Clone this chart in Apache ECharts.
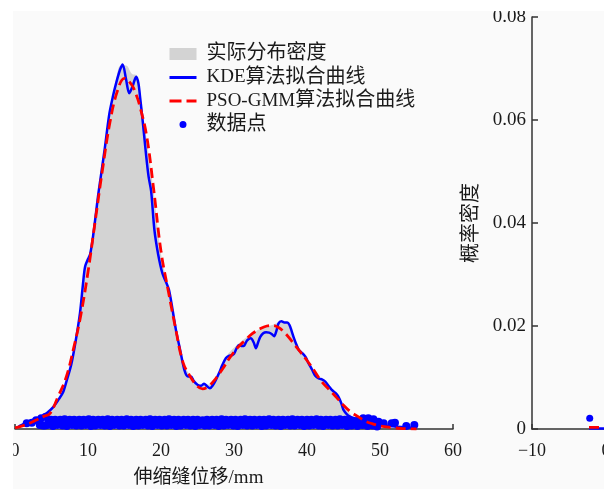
<!DOCTYPE html>
<html>
<head>
<meta charset="utf-8">
<title>伸缩缝位移概率密度</title>
<script src="https://cdn.jsdelivr.net/npm/echarts@6/dist/echarts.min.js"></script>
</head>
<body style="margin:0">
<div id="main" style="width:616px;height:489px;"></div>
<script>
// 实际分布密度 (灰色面积)
var actualDensity = [
  [4.5, 0], [4.8, 0.003], [5.5, 0.0048], [6.5, 0.0075], [7.5, 0.0118], [8.5, 0.019], [9.3, 0.0275],
  [9.8, 0.032], [10.3, 0.035], [11, 0.0415], [12, 0.0525], [13, 0.062], [13.8, 0.0675], [14.5, 0.0706],
  [15.2, 0.0706], [16, 0.069], [16.7, 0.0686], [17.3, 0.0635], [18, 0.0565], [19, 0.046], [20, 0.034],
  [21, 0.0275], [22, 0.0198], [23, 0.013], [24, 0.0104], [25, 0.0088], [26, 0.0086], [27, 0.009],
  [28, 0.0112], [29, 0.0142], [30, 0.0158], [31, 0.017], [32, 0.0181], [33, 0.019], [34, 0.0197],
  [35, 0.0201], [36, 0.0206], [37, 0.0208], [38, 0.0185], [39, 0.0156], [40, 0.0137], [41, 0.0114],
  [42, 0.0096], [43, 0.0082], [44, 0.0066], [45, 0.0045], [46, 0.0027], [46.6, 0]
];

// KDE算法拟合曲线
var kdeCurve = [
  [0.5, 0.0005], [1.5, 0.0012], [2.5, 0.0018], [3.5, 0.0022], [4.3, 0.003], [5.2, 0.0042], [6, 0.0058],
  [6.6, 0.0072], [7.1, 0.0095], [7.7, 0.0125], [8.3, 0.017], [8.9, 0.0225], [9.3, 0.028], [9.6, 0.0315],
  [10.0, 0.033], [10.3, 0.034], [10.7, 0.0375], [11.1, 0.042], [11.4, 0.0455], [11.8, 0.0495],
  [12.3, 0.0545], [12.9, 0.061], [13.4, 0.0645], [13.9, 0.0674], [14.4, 0.0698], [14.75, 0.0708],
  [15.2, 0.068], [15.65, 0.0652], [16.1, 0.0665], [16.6, 0.0684], [16.9, 0.0672], [17.1, 0.0649],
  [17.5, 0.0597], [17.9, 0.054], [18.3, 0.049], [18.65, 0.0462], [19.1, 0.0386], [19.6, 0.034],
  [20.2, 0.0302], [20.7, 0.0285], [21.1, 0.027], [21.6, 0.023], [22.05, 0.0192], [22.6, 0.0155],
  [23.2, 0.0115], [23.7, 0.0102], [24.1, 0.0102], [24.5, 0.0093], [25.0, 0.0086], [25.5, 0.0084],
  [25.9, 0.0088], [26.3, 0.0083], [26.7, 0.0079], [27.1, 0.0085], [27.5, 0.0095], [28.0, 0.011],
  [28.4, 0.0124], [28.9, 0.0138], [29.3, 0.0142], [29.7, 0.0143], [30.0, 0.0146], [30.4, 0.0158],
  [30.7, 0.0163], [31.1, 0.0161], [31.4, 0.0162], [31.8, 0.0172], [32.3, 0.0176], [32.7, 0.0168],
  [33.0, 0.0157], [33.3, 0.0168], [33.6, 0.0179], [34.0, 0.0186], [34.4, 0.0188], [34.8, 0.0187],
  [35.2, 0.0184], [35.5, 0.018], [35.8, 0.019], [36.1, 0.0205], [36.5, 0.0209], [36.9, 0.0207],
  [37.3, 0.0207], [37.6, 0.0202], [37.9, 0.019], [38.2, 0.0177], [38.6, 0.0162], [38.9, 0.0153],
  [39.3, 0.0148], [39.8, 0.014], [40.2, 0.0128], [40.7, 0.0115], [41.1, 0.0104], [41.6, 0.0098],
  [42.1, 0.0096], [42.5, 0.0092], [43.0, 0.0083], [43.4, 0.0076], [43.9, 0.007], [44.3, 0.0063],
  [44.7, 0.005], [45.0, 0.0037], [45.5, 0.0028], [45.9, 0.0024], [46.6, 0.002], [47.3, 0.0017],
  [48.2, 0.0014], [49.2, 0.0011], [50.5, 0.0008], [52, 0.0005], [54, 0.0003], [55, 0.0002]
];

// PSO-GMM算法拟合曲线
var gmmCurve = [
  [0, 0.0002], [1, 0.0006], [2, 0.0011], [3, 0.0018], [4, 0.0025], [4.8, 0.003], [5.9, 0.0063],
  [7, 0.01], [8, 0.0155], [9, 0.022], [10, 0.0305], [11, 0.0405], [12, 0.0505], [13, 0.0595],
  [14, 0.0655], [15, 0.0681], [16, 0.0668], [16.6, 0.0649], [17, 0.0632], [18, 0.0572], [19, 0.0465],
  [20, 0.0345], [21, 0.0268], [22, 0.0195], [23, 0.013], [24, 0.0102], [25, 0.0083], [25.7, 0.0078],
  [26.5, 0.0083], [27.5, 0.0098], [28.5, 0.0118], [29.5, 0.014], [30.5, 0.0158], [31.5, 0.0172],
  [32.5, 0.0185], [33.5, 0.0194], [34.5, 0.02], [35.3, 0.0201], [36.1, 0.0197], [37, 0.0186],
  [38, 0.0169], [39, 0.0151], [40, 0.0133], [41, 0.0113], [42, 0.0092], [43, 0.0077], [44, 0.0062],
  [45, 0.0046], [46, 0.0033], [47, 0.0024], [48, 0.0015], [49, 0.001], [50, 0.0006], [51.5, 0.0003],
  [53, 0.0001], [55, 0]
];

// 数据点
var dataPoints = [
  [1.6, 0.0011], [2.3, 0.0012], [2.9, 0.0017], [3.4, 0.0008], [3.6, 0.0021], [4.2, 0.0024], [4.1, 0.0007],
  [4.9, 0.0018], [5.5, 0.0018], [6.2, 0.0018], [6.8, 0.0019], [7.5, 0.0018], [8.1, 0.0018], [8.8, 0.0018],
  [9.4, 0.0018], [10.1, 0.0019], [10.7, 0.0018], [11.4, 0.0018], [12.0, 0.0018], [12.7, 0.0019],
  [13.3, 0.0018], [14.0, 0.0018], [14.6, 0.0018], [15.3, 0.0019], [15.9, 0.0018], [16.6, 0.0018],
  [17.2, 0.0018], [17.9, 0.0018], [18.5, 0.0019], [19.2, 0.0018], [19.8, 0.0018], [20.5, 0.0018],
  [21.1, 0.0019], [21.8, 0.0018], [22.4, 0.0018], [23.1, 0.0018], [23.7, 0.0018], [24.4, 0.0018],
  [25.0, 0.0018], [25.7, 0.0017], [26.3, 0.0018], [27.0, 0.0018], [27.6, 0.0018], [28.3, 0.0019],
  [28.9, 0.0018], [29.6, 0.0018], [30.2, 0.0018], [30.9, 0.0018], [31.5, 0.0019], [32.2, 0.0018],
  [32.8, 0.0018], [33.5, 0.0018], [34.1, 0.0018], [34.8, 0.0019], [35.4, 0.0018], [36.1, 0.0018],
  [36.7, 0.0018], [37.4, 0.0018], [38.0, 0.0019], [38.7, 0.0018], [39.3, 0.0018], [40.0, 0.0018],
  [40.6, 0.0018], [41.3, 0.0019], [41.9, 0.0018], [42.6, 0.0018], [43.2, 0.0018], [43.9, 0.0018],
  [44.5, 0.0019], [45.2, 0.0018], [45.8, 0.0018],
  [4.6, 0.0013], [5.2, 0.0012], [5.9, 0.0014], [6.5, 0.0013], [7.2, 0.0012], [7.8, 0.0013], [8.5, 0.0014],
  [9.1, 0.0013], [9.8, 0.0012], [10.4, 0.0013], [11.1, 0.0013], [11.7, 0.0014], [12.4, 0.0012],
  [13.0, 0.0013], [13.7, 0.0013], [14.3, 0.0012], [15.0, 0.0014], [15.6, 0.0013], [16.3, 0.0013],
  [16.9, 0.0012], [17.6, 0.0013], [18.2, 0.0014], [18.9, 0.0013], [19.5, 0.0012], [20.2, 0.0013],
  [20.8, 0.0013], [21.5, 0.0014], [22.1, 0.0012], [22.8, 0.0013], [23.4, 0.0013], [24.1, 0.0012],
  [24.7, 0.0014], [25.4, 0.0013], [26.0, 0.0012], [26.7, 0.0013], [27.3, 0.0014], [28.0, 0.0013],
  [28.6, 0.0012], [29.3, 0.0013], [29.9, 0.0013], [30.6, 0.0014], [31.2, 0.0012], [31.9, 0.0013],
  [32.5, 0.0013], [33.2, 0.0012], [33.8, 0.0014], [34.5, 0.0013], [35.1, 0.0013], [35.8, 0.0012],
  [36.4, 0.0013], [37.1, 0.0014], [37.7, 0.0013], [38.4, 0.0012], [39.0, 0.0013], [39.7, 0.0013],
  [40.3, 0.0014], [41.0, 0.0012], [41.6, 0.0013], [42.3, 0.0013], [42.9, 0.0012], [43.6, 0.0014],
  [44.2, 0.0013], [44.9, 0.0013], [45.5, 0.0012], [46.0, 0.0013],
  [3.8, 0.0007], [4.5, 0.0008], [5.2, 0.0006], [5.8, 0.0008], [6.5, 0.0007], [7.1, 0.0006], [7.8, 0.0008],
  [8.4, 0.0007], [9.1, 0.0007], [9.7, 0.0008], [10.4, 0.0006], [11.0, 0.0007], [11.7, 0.0008],
  [12.3, 0.0007], [13.0, 0.0006], [13.6, 0.0008], [14.3, 0.0007], [14.9, 0.0007], [15.6, 0.0008],
  [16.2, 0.0006], [16.9, 0.0007], [17.5, 0.0008], [18.2, 0.0007], [18.8, 0.0006], [19.5, 0.0008],
  [20.1, 0.0007], [20.8, 0.0007], [21.4, 0.0008], [22.1, 0.0006], [22.7, 0.0007], [23.4, 0.0008],
  [24.0, 0.0007], [24.7, 0.0006], [25.3, 0.0008], [26.0, 0.0007], [26.6, 0.0007], [27.3, 0.0008],
  [27.9, 0.0006], [28.6, 0.0007], [29.2, 0.0008], [29.9, 0.0007], [30.5, 0.0006], [31.2, 0.0008],
  [31.8, 0.0007], [32.5, 0.0007], [33.1, 0.0008], [33.8, 0.0006], [34.4, 0.0007], [35.1, 0.0008],
  [35.7, 0.0007], [36.4, 0.0006], [37.0, 0.0008], [37.7, 0.0007], [38.3, 0.0007], [39.0, 0.0008],
  [39.6, 0.0006], [40.3, 0.0007], [40.9, 0.0008], [41.6, 0.0007], [42.2, 0.0006], [42.9, 0.0008],
  [43.5, 0.0007], [44.2, 0.0007], [44.8, 0.0008], [45.5, 0.0006], [46.1, 0.0007],
  [46.3, 0.0016], [46.9, 0.0006], [47.05, 0.0017], [47.6, 0.0008], [47.7, 0.0021], [48.3, 0.0006],
  [48.4, 0.0021], [49.0, 0.0007], [49.1, 0.0019], [49.6, 0.0005], [49.8, 0.0014], [50.5, 0.0011],
  [51.6, 0.0011], [52.05, 0.0012], [53.6, 0.0006], [54.7, 0.0008]
];

// 右侧子图 (只露出一角)
var rightPoints = [[-2.2, 0.0021]];
var rightKde = [[-2.3, 0.0001], [2, 0.0001]];
var rightGmm = [[-2.3, 0.0003], [2, 0.0003]];

var leftTicks = [0, 10, 20, 30, 40, 50, 60];
var densityTicks = [0, 0.02, 0.04, 0.06, 0.08];

var serif = "'Liberation Serif', 'Noto Sans CJK SC', serif";
var textColor = '#1a1a1a';
var axisColor = '#333';

var myChart = echarts.init(document.getElementById('main'));

var axisBase = {
  axisLine: { onZero: false, lineStyle: { color: axisColor, width: 1.5 } },
  axisTick: { inside: true, length: 5, lineStyle: { color: axisColor, width: 1.5 } },
  splitLine: { show: false }
};

// 图例里折线不显示圆点
var hideSymbol = { opacity: 0 };

var option = {
  backgroundColor: '#fafafa',
  animation: false,
  grid: [
    { left: 15, top: 17, width: 438, height: 412, outerBoundsMode: 'none' },
    { left: 532, top: 17, width: 518, height: 412, outerBoundsMode: 'none' }
  ],
  legend: {
    orient: 'vertical',
    left: 163,
    top: 39,
    itemWidth: 27,
    itemHeight: 12,
    itemGap: 3.5,
    textStyle: {
      fontSize: 19, lineHeight: 20, fontFamily: serif, color: textColor, padding: [0, 0, 0, 5],
      rich: {
        c: { fontSize: 20, fontFamily: serif, color: textColor }
      }
    },
    formatter: function (name) {
      return name.replace(/([\u4e00-\u9fa5]+)/g, '{c|$1}');
    },
    data: [
      { name: '实际分布密度', icon: 'rect' },
      { name: 'KDE算法拟合曲线', itemStyle: hideSymbol, lineStyle: { width: 3 } },
      { name: 'PSO-GMM算法拟合曲线', itemStyle: hideSymbol, lineStyle: { width: 3, type: [12, 5] } },
      { name: '数据点', icon: 'path://M0,0L0.01,0M12,12L12.01,12M2.5,6A3.5,3.5,0,1,1,9.5,6A3.5,3.5,0,1,1,2.5,6Z' }
    ]
  },
  xAxis: [
    Object.assign({}, axisBase, {
      type: 'value', gridIndex: 0,
      min: leftTicks[0], max: leftTicks[leftTicks.length - 1], interval: 10,
      axisLabel: { margin: 13, fontSize: 18, fontFamily: serif, color: textColor }
    }),
    Object.assign({}, axisBase, {
      type: 'value', gridIndex: 1,
      min: -10, max: 60, interval: 10,
      axisLabel: {
        margin: 13, fontSize: 18, fontFamily: serif, color: textColor,
        formatter: function (v) { return v < 0 ? '\u2212' + Math.abs(v) : String(v); }
      }
    })
  ],
  yAxis: [
    { type: 'value', gridIndex: 0, min: 0, max: 0.08, show: false },
    Object.assign({}, axisBase, {
      type: 'value', gridIndex: 1,
      min: densityTicks[0], max: densityTicks[densityTicks.length - 1], interval: 0.02,
      axisTick: { inside: true, length: 6, lineStyle: { color: axisColor, width: 1.5 } },
      axisLabel: {
        margin: 6, fontSize: 19, fontFamily: serif, color: textColor,
        formatter: function (v) { return v === 0 ? '0' : v.toFixed(2); }
      },
      name: '概率密度',
      nameLocation: 'middle',
      nameGap: 50,
      nameRotate: 90,
      nameTextStyle: { fontSize: 20, fontFamily: serif, color: textColor }
    })
  ],
  series: [
    {
      name: '实际分布密度', type: 'line', xAxisIndex: 0, yAxisIndex: 0, z: 1,
      data: actualDensity, smooth: 0.4, symbol: 'none',
      color: '#d3d3d3',
      lineStyle: { width: 0 },
      areaStyle: { color: '#d3d3d3', opacity: 1 }
    },
    {
      name: '数据点', type: 'scatter', xAxisIndex: 0, yAxisIndex: 0, z: 3,
      data: dataPoints, symbolSize: 8, color: '#0000ff',
      itemStyle: { opacity: 1, color: '#0000ff' }
    },
    {
      name: 'KDE算法拟合曲线', type: 'line', xAxisIndex: 0, yAxisIndex: 0, z: 4,
      data: kdeCurve, smooth: 0.3, symbol: 'none', color: '#0000ff',
      lineStyle: { width: 2.5, color: '#0000ff' }
    },
    {
      name: 'PSO-GMM算法拟合曲线', type: 'line', xAxisIndex: 0, yAxisIndex: 0, z: 5,
      data: gmmCurve, smooth: 0.4, symbol: 'none', color: '#ff0000',
      lineStyle: { width: 2.8, color: '#ff0000', type: [10, 5] }
    },
    {
      name: '数据点', type: 'scatter', xAxisIndex: 1, yAxisIndex: 1, z: 3,
      data: rightPoints, symbolSize: 7, color: '#0000ff',
      itemStyle: { opacity: 1, color: '#0000ff' }
    },
    {
      name: 'KDE算法拟合曲线', type: 'line', xAxisIndex: 1, yAxisIndex: 1, z: 4,
      data: rightKde, symbol: 'none', color: '#0000ff',
      lineStyle: { width: 2.5, color: '#0000ff' }
    },
    {
      name: 'PSO-GMM算法拟合曲线', type: 'line', xAxisIndex: 1, yAxisIndex: 1, z: 5,
      data: rightGmm, symbol: 'none', color: '#ff0000',
      lineStyle: { width: 2.8, color: '#ff0000', type: [10, 5] }
    }
  ],
  graphic: [
    {
      type: 'text', x: 198.5, y: 478, z: 50,
      style: { text: '伸缩缝位移/mm', font: '19px ' + serif, fill: textColor, align: 'center', verticalAlign: 'middle' }
    },
    // 原图裁切边缘
    { type: 'rect', shape: { x: 0, y: 0, width: 13, height: 489 }, style: { fill: '#ffffff' }, z: 100 },
    { type: 'rect', shape: { x: 604, y: 0, width: 12, height: 489 }, style: { fill: '#ffffff' }, z: 100 },
    { type: 'rect', shape: { x: 0, y: 0, width: 616, height: 11 }, style: { fill: '#ffffff' }, z: 100 }
  ]
};

myChart.setOption(option);
</script>
</body>
</html>
